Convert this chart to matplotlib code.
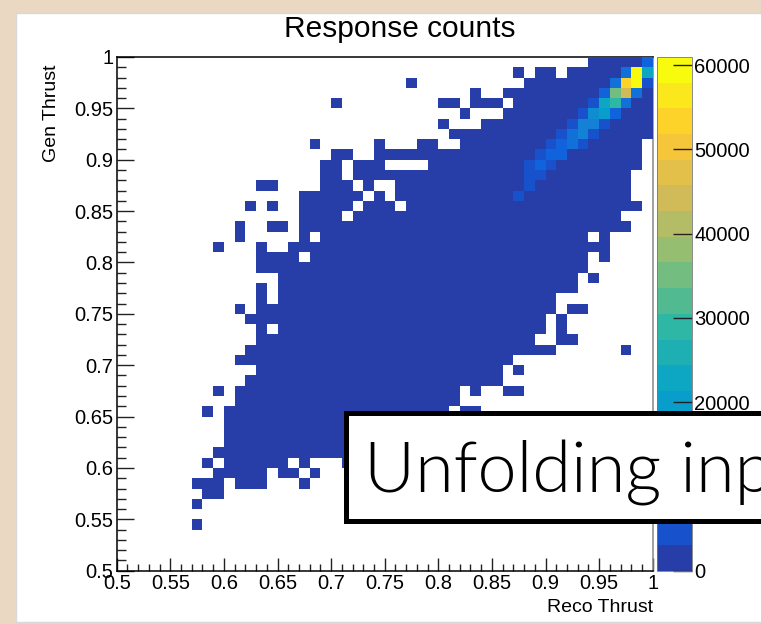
import numpy as np
import matplotlib.pyplot as plt
from matplotlib.colors import ListedColormap, BoundaryNorm
from matplotlib.patches import Rectangle
from matplotlib.ticker import MultipleLocator, FuncFormatter

plt.rcParams['font.family'] = ['Liberation Sans', 'DejaVu Sans']

# 50 x 50 response matrix, reco thrust on x, gen thrust on y
n_bins = 50
edges = np.linspace(0.5, 1.0, n_bins + 1)

# filled reco-bin runs (inclusive) for each gen bin
filled_runs = {
    49: [(44, 49)],
    48: [(37, 37), (39, 40), (42, 49)],
    47: [(27, 27), (38, 49)],
    46: [(33, 33), (36, 49)],
    45: [(20, 20), (30, 31), (33, 35), (37, 49)],
    44: [(32, 32), (36, 49)],
    43: [(30, 30), (34, 49)],
    42: [(31, 49)],
    41: [(18, 18), (24, 24), (28, 29), (32, 48)],
    40: [(20, 21), (24, 48)],
    39: [(19, 20), (22, 24), (29, 48)],
    38: [(19, 20), (22, 47)],
    37: [(13, 14), (19, 21), (23, 23), (26, 47)],
    36: [(17, 22), (24, 24), (26, 47)],
    35: [(12, 12), (14, 14), (17, 21), (23, 25), (27, 48)],
    34: [(17, 20), (22, 46)],
    33: [(11, 11), (14, 15), (17, 47)],
    32: [(11, 11), (17, 17), (19, 43), (45, 45)],
    31: [(9, 9), (13, 13), (16, 45)],
    30: [(13, 16), (18, 43), (45, 45)],
    29: [(13, 43)],
    28: [(15, 42), (44, 44)],
    27: [(13, 13), (15, 42)],
    26: [(13, 13), (15, 40)],
    25: [(11, 11), (13, 40), (42, 43)],
    24: [(12, 39), (41, 41)],
    23: [(13, 13), (15, 39), (41, 41)],
    22: [(13, 38), (41, 42)],
    21: [(12, 40), (47, 47)],
    20: [(11, 36)],
    19: [(13, 35), (37, 37)],
    18: [(12, 35)],
    17: [(9, 9), (11, 31), (33, 33), (36, 37)],
    16: [(11, 31)],
    15: [(8, 8), (10, 30), (32, 33)],
    14: [(10, 29)],
    13: [(10, 28)],
    12: [(10, 27)],
    11: [(9, 26)],
    10: [(8, 8), (10, 15), (17, 17), (21, 23)],
    9: [(9, 13), (15, 16), (18, 18)],
    8: [(7, 9), (11, 13), (17, 17)],
    7: [(8, 9)],
    6: [(7, 7)],
    4: [(7, 7)],
}
low_count = 1200

# bins along the diagonal with larger contents: (reco bin, gen bin, count)
peak_bins = [
    (49, 49, 7600),
    (47, 48, 10600), (48, 48, 58500), (49, 48, 22800),
    (46, 47, 10600), (47, 47, 53500), (48, 47, 60900), (49, 47, 6000),
    (45, 46, 7600), (46, 46, 35000), (47, 46, 44200), (48, 46, 10600),
    (44, 45, 4500), (45, 45, 22800), (46, 45, 29000), (47, 45, 10600),
    (43, 44, 4500), (44, 44, 16700), (45, 44, 19800), (46, 44, 7600),
    (42, 43, 4500), (43, 43, 13700), (44, 43, 13700), (45, 43, 4500),
    (41, 42, 4500), (42, 42, 10600), (43, 42, 13700), (44, 42, 4500),
    (40, 41, 4500), (41, 41, 7600), (42, 41, 10600), (43, 41, 4500),
    (39, 40, 4500), (40, 40, 7600), (41, 40, 7600),
    (38, 39, 4500), (39, 39, 7600), (40, 39, 4500),
    (38, 38, 4500), (39, 38, 4500),
    (38, 37, 4500),
    (37, 36, 4500),
]

z_max = 60950
n_levels = 20
cbar_ticks = [0, 10000, 20000, 30000, 40000, 50000, 60000]

counts = np.zeros((n_bins, n_bins))
for gen_bin, runs in filled_runs.items():
    for lo, hi in runs:
        counts[gen_bin, lo:hi + 1] = low_count
for reco_bin, gen_bin, value in peak_bins:
    counts[gen_bin, reco_bin] = value
counts = np.ma.masked_equal(counts, 0)

# ROOT kBird palette, sampled the way COLZ picks its contour colours
bird_stops = [0.0, 0.125, 0.25, 0.375, 0.5, 0.625, 0.75, 0.875, 1.0]
bird_red = [0.2082, 0.0592, 0.0780, 0.0232, 0.1802, 0.5301, 0.8186, 0.9956, 0.9764]
bird_green = [0.1664, 0.3599, 0.5041, 0.6419, 0.7178, 0.7492, 0.7328, 0.7862, 0.9832]
bird_blue = [0.5293, 0.8684, 0.8385, 0.7914, 0.6425, 0.4662, 0.3499, 0.1968, 0.0539]

idx = ((np.arange(n_levels) + 0.99) * 255 / n_levels).astype(int)
t = idx / 254.0
band_colours = np.column_stack([np.interp(t, bird_stops, bird_red),
                                np.interp(t, bird_stops, bird_green),
                                np.interp(t, bird_stops, bird_blue)])
cmap = ListedColormap(band_colours)
levels = np.linspace(0, z_max, n_levels + 1)
norm = BoundaryNorm(levels, cmap.N)

W, H = 761, 624
fig = plt.figure(figsize=(W / 100, H / 100), dpi=100, facecolor='#ead8c2')

# white canvas
fig.add_artist(Rectangle((16 / W, 2 / H), 1.0, 609 / H,
                         transform=fig.transFigure, facecolor='white',
                         edgecolor='#d8d8d8', linewidth=1.0, zorder=-5))

ax = fig.add_axes([116.7 / W, 53.3 / H, 536.0 / W, 513.7 / H])
mesh = ax.pcolormesh(edges, edges, counts, cmap=cmap, norm=norm, zorder=3)
ax.set_xlim(0.5, 1.0)
ax.set_ylim(0.5, 1.0)

fmt = FuncFormatter(lambda v, pos: '%g' % round(v, 2))
ax.xaxis.set_major_locator(MultipleLocator(0.05))
ax.xaxis.set_minor_locator(MultipleLocator(0.01))
ax.yaxis.set_major_locator(MultipleLocator(0.05))
ax.yaxis.set_minor_locator(MultipleLocator(0.01))
ax.xaxis.set_major_formatter(fmt)
ax.yaxis.set_major_formatter(fmt)
ax.tick_params(which='both', direction='in', top=False, right=False,
               colors='#222222', width=1.0, labelsize=14.5, labelcolor='black')
ax.tick_params(axis='y', which='major', length=12, pad=2.5)
ax.tick_params(axis='y', which='minor', length=6.5)
ax.tick_params(axis='x', which='major', length=9.6, pad=2.5)
ax.tick_params(axis='x', which='minor', length=5)
for side in ['left', 'bottom', 'top']:
    ax.spines[side].set_linewidth(1.1)
    ax.spines[side].set_color('black')
ax.spines['right'].set_color('#888888')
ax.spines['right'].set_linewidth(1.1)

cax = fig.add_axes([656.7 / W, 53.3 / H, 35.0 / W, 513.7 / H])
cb = fig.colorbar(mesh, cax=cax, ticks=cbar_ticks)
cb.outline.set_linewidth(0.6)
cb.outline.set_edgecolor('#777777')
cax.tick_params(direction='in', length=13.5, width=1.0, colors='#222222',
                labelsize=14.5, labelcolor='black', pad=2)
cax.yaxis.set_major_formatter(FuncFormatter(lambda v, pos: '%d' % v))
cax.minorticks_off()

fig.text(400 / W, 1 - 37 / H, 'Response counts', fontsize=21.5,
         ha='center', va='baseline')
fig.text(51.5 / W, 1 - 64 / H, 'Gen Thrust', fontsize=14, rotation=90,
         ha='center', va='top')
fig.text(653 / W, 1 - 607.5 / H, 'Reco Thrust', fontsize=14,
         ha='right', va='center')

# caption box laid over the lower part of the plot
fig.add_artist(Rectangle((345.8 / W, 1 - 521 / H), 1.0, (521 - 412.5) / H,
                         transform=fig.transFigure, facecolor='white',
                         edgecolor='black', linewidth=3.6, zorder=10,
                         clip_on=False))
fig.text(364 / W, 1 - 492.7 / H, 'Unfolding input', fontsize=50.5,
         family=['Lato', 'DejaVu Sans'], fontweight=300,
         ha='left', va='baseline', zorder=11)

fig.savefig('out.png', dpi=100, facecolor=fig.get_facecolor())
